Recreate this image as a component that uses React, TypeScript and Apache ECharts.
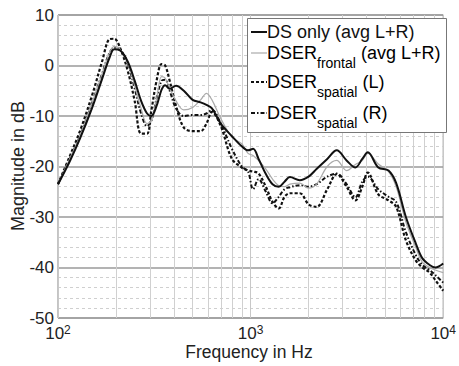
import React, { useEffect, useRef } from "react";
import * as echarts from "echarts";

const freqs = [100, 115, 130, 150, 170, 185, 196, 210, 230, 250, 270, 290, 305, 325, 345, 360, 380, 410, 450, 500, 550, 590, 630, 700, 800, 900, 970, 1030, 1100, 1200, 1300, 1400, 1500, 1600, 1800, 2000, 2200, 2500, 2800, 3150, 3500, 3800, 4060, 4600, 5200, 5700, 6400, 7200, 7800, 8500, 9100, 10000];

const dsOnly = [-23.5, -19, -14.5, -8.5, -2.5, 1.5, 3.2, 3.0, 0.8, -3, -7, -9.5, -10, -8, -4.8, -3.9, -4.6, -4, -5, -6.8, -7.3, -7.8, -8.5, -11.5, -14, -16, -16.8, -16.5, -18.5, -21.5, -23.5, -24, -23, -22.1, -22.7, -22, -20.5, -18.5, -16.8, -18.8, -20.2, -18.5, -17.2, -20.2, -20.8, -23.3, -30, -35.2, -38.2, -39.5, -40, -39.2];

const dserFrontal = [-23.5, -18.5, -14, -7.5, -1.5, 2.5, 3.8, 3.2, 0.5, -4, -8.5, -11.5, -11, -6.5, -2.2, -2.5, -4.5, -7, -8.8, -8.3, -6.8, -5.5, -6.8, -10.5, -14.2, -15.5, -17.4, -17.8, -18.8, -20.5, -22.5, -23.8, -24, -23.5, -23.3, -24.3, -23.5, -20, -18.8, -20.8, -19.6, -18.8, -17.4, -19.5, -21, -24, -31, -36, -39, -40, -40.5, -41];

const dserSpatialL = [-23.5, -18, -13, -6, 1, 5.2, 5.3, 3.5, -1, -7, -13.5, -13.5, -9, -3, 0.3, 0, -3, -8, -12.3, -13, -13, -11.5, -9.2, -12, -18.5, -20.2, -20.8, -21, -21.4, -24, -27, -28.3, -26, -25.3, -25.3, -27.5, -28, -24.5, -21.5, -24, -26.7, -24, -21.2, -25.5, -26.7, -28, -34.6, -38.6, -40, -41, -42.5, -44.6];

const dserSpatialR = [-23.5, -18.5, -14, -7.5, -1.5, 2.5, 3.5, 3.2, 0.5, -4.5, -9.5, -12, -11, -6.5, -3, -2.8, -5, -8.5, -10, -9.8, -9.8, -9.5, -8.8, -11.5, -16.5, -20, -21, -24.5, -22.5, -25, -27.3, -26, -24.5, -24.1, -23.7, -24, -23.5, -22, -21.4, -23.5, -26.1, -23, -22, -24.5, -26, -27, -33, -37.5, -39.5, -40.5, -41.5, -43];

const minorFreqs = [200, 300, 400, 500, 600, 700, 800, 900, 2000, 3000, 4000, 5000, 6000, 7000, 8000, 9000];

const seriesNames = ["DS only (avg L+R)", "DSER frontal (avg L+R)", "DSER spatial (L)", "DSER spatial (R)"];

const FONT = "Liberation Sans, Arial, Helvetica, sans-serif";

export default function App() {
  const ref = useRef<HTMLDivElement>(null);
  useEffect(() => {
    if (!ref.current) return;
    const chart = echarts.init(ref.current, undefined, { renderer: "svg" });
    const pairs = (vals: number[]) => freqs.map((f, i) => [f, vals[i]]);
    const legendY = [32, 53, 82, 113];
    const legendStyles: any[] = [
      { stroke: "#111", lineWidth: 2 },
      { stroke: "#aaa", lineWidth: 1.2 },
      { stroke: "#111", lineWidth: 2.2, lineDash: [3, 2] },
      { stroke: "#111", lineWidth: 2, lineDash: [4, 2, 1.5, 2] },
    ];
    const rich = {
      m: { fontSize: 18, fontFamily: FONT, color: "#111", lineHeight: 18, verticalAlign: "top" },
      s: { fontSize: 14, fontFamily: FONT, color: "#111", lineHeight: 26, verticalAlign: "bottom" },
    };
    const graphic: any[] = [
      {
        type: "rect",
        shape: { x: 247.5, y: 18.5, width: 199, height: 114 },
        style: { fill: "#fff", stroke: "#777", lineWidth: 1 },
        z: 100,
      },
    ];
    legendY.forEach((y, i) => {
      graphic.push({
        type: "line",
        shape: { x1: 251, y1: y, x2: 267, y2: y },
        style: legendStyles[i],
        z: 101,
      });
    });
    graphic.push({
      type: "text",
      x: 267,
      y: legendY[0],
      style: { text: seriesNames[0], fontSize: 18, fontFamily: FONT, fill: "#111", verticalAlign: "middle" },
      z: 101,
    });
    const subs = [
      ["frontal", " (avg L+R)"],
      ["spatial", " (L)"],
      ["spatial", " (R)"],
    ];
    subs.forEach((s, i) => {
      graphic.push({
        type: "text",
        x: 267,
        y: legendY[i + 1] - 9,
        style: {
          text: `{m|DSER}{s|${s[0]}}{m|${s[1]}}`,
          rich,
          verticalAlign: "top",
        },
        z: 101,
      });
    });
    graphic.push({
      type: "text",
      x: 18,
      y: 166,
      rotation: Math.PI / 2,
      style: { text: "Magnitude in dB", fontSize: 18, fontFamily: FONT, fill: "#222", align: "center", verticalAlign: "middle" },
    });
    graphic.push({
      type: "text",
      x: 249,
      y: 352,
      style: { text: "Frequency in Hz", fontSize: 17.5, fontFamily: FONT, fill: "#222", align: "center", verticalAlign: "middle" },
    });

    const lineStyles: any[] = [
      { color: "#111", width: 2 },
      { color: "#aaa", width: 1.2 },
      { color: "#111", width: 2.2, type: [3, 2] },
      { color: "#111", width: 2, type: [4, 2, 1.5, 2] },
    ];
    const dataSets = [dsOnly, dserFrontal, dserSpatialL, dserSpatialR];
    const series: any[] = dataSets.map((d, i) => ({
      name: seriesNames[i],
      type: "line",
      data: pairs(d),
      smooth: 0.35,
      symbol: "none",
      lineStyle: lineStyles[i],
      z: 10 - i,
    }));
    series.unshift({
      type: "line",
      data: [],
      silent: true,
      markLine: {
        silent: true,
        symbol: "none",
        label: { show: false },
        lineStyle: { color: "#d0d0d0", width: 1, type: "solid" },
        data: minorFreqs.map((f) => ({ xAxis: f })),
        animation: false,
      },
    });

    chart.setOption({
      animation: false,
      backgroundColor: "#fff",
      grid: { left: 58, top: 15, width: 390, height: 303, show: true, borderColor: "#888", borderWidth: 1, backgroundColor: "transparent" },
      xAxis: {
        type: "log",
        logBase: 10,
        min: 100,
        max: 10000,
        axisLine: { show: false },
        axisTick: { show: false },
        splitLine: { show: true, lineStyle: { color: "#c8c8c8", width: 1 } },
        axisLabel: {
          margin: 6,
          showMinLabel: true,
          showMaxLabel: true,
          formatter: (v: number) => `{b|10}{s|${Math.round(Math.log10(v))}}`,
          rich: {
            b: { fontSize: 17, fontFamily: FONT, color: "#222", lineHeight: 18, verticalAlign: "bottom" },
            s: { fontSize: 12, fontFamily: FONT, color: "#222", lineHeight: 12, verticalAlign: "top" },
          },
        },
      },
      yAxis: {
        type: "value",
        min: -50,
        max: 10,
        interval: 10,
        axisLine: { show: false },
        axisTick: { show: false },
        axisLabel: { fontSize: 17, fontFamily: FONT, color: "#222", margin: 4 },
        splitLine: { show: true, lineStyle: { color: "#9a9a9a", width: 1.5 } },
        minorTick: { show: false, splitNumber: 5 },
        minorSplitLine: { show: true, lineStyle: { color: "#cfcfcf", width: 1, type: [3, 3] } },
      },
      series,
      graphic,
    });
    return () => chart.dispose();
  }, []);
  return <div ref={ref} style={{ position: "fixed", left: 0, top: 0, width: 459, height: 366 }} />;
}
